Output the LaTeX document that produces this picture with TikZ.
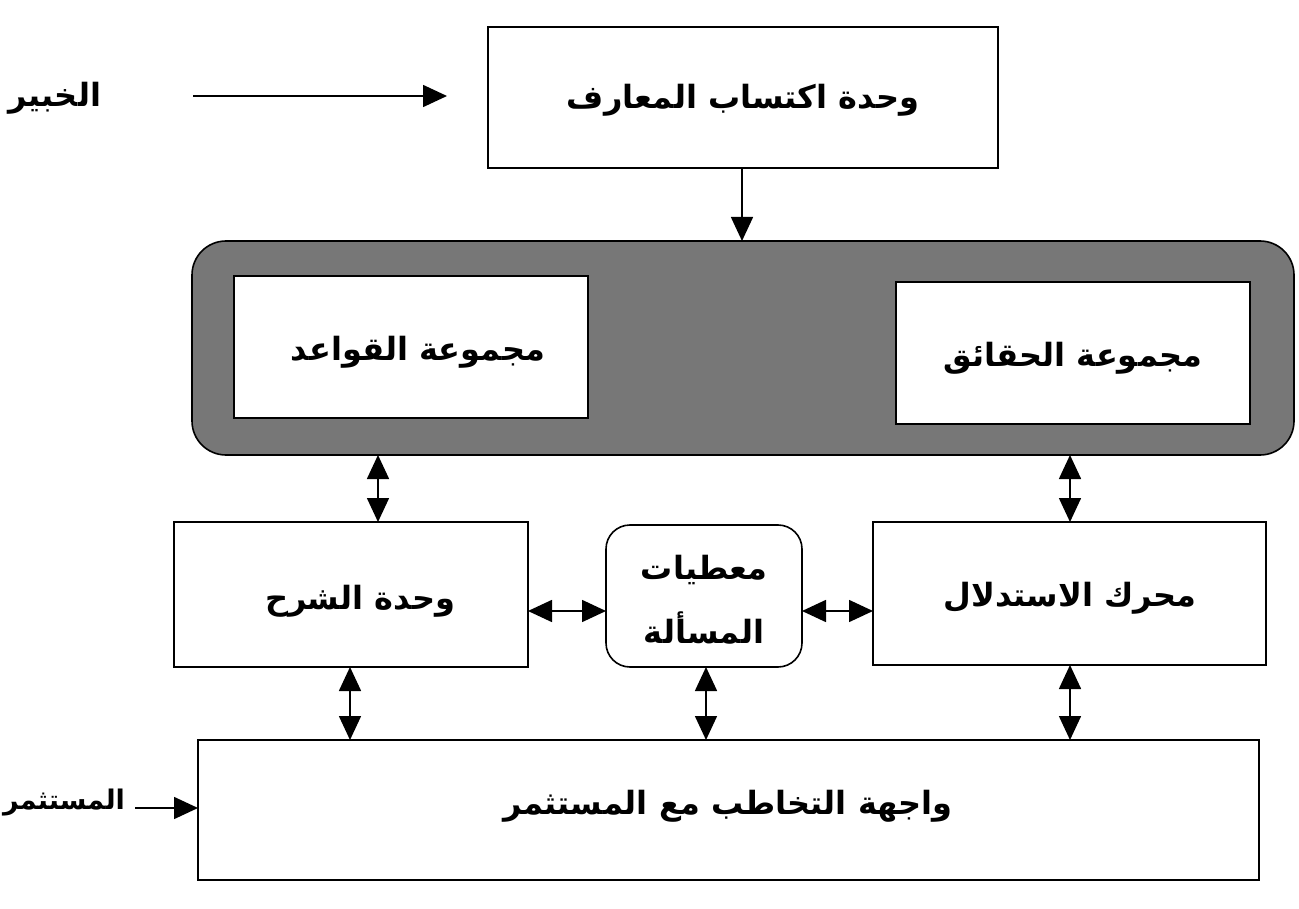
\documentclass[tikz,border=0pt]{standalone}
\usepackage{fontspec}
\newfontfamily\arabicfont[Script=Arabic]{DejaVu Sans}
\TeXXeTstate=1
\usetikzlibrary{arrows.meta}
\definecolor{panelgray}{HTML}{777777}
\tikzset{
  box/.style={draw=black, line width=1.6pt, fill=white, inner sep=0pt},
  lbl/.style={font=\arabicfont\bfseries\fontsize{32}{50}\selectfont, align=center},
  conn/.style={line width=1.6pt, -{Triangle[length=24pt,width=22pt]}},
  dconn/.style={line width=1.6pt, {Triangle[length=24pt,width=22pt]}-{Triangle[length=24pt,width=22pt]}},
}
\begin{document}
\begin{tikzpicture}[x=1pt,y=-1pt]
\useasboundingbox (0,0) rectangle (1299,909);
% acquisition unit
\draw[box] (488,27) rectangle (998,168);
\node[lbl] (acq) at (743,100) {\beginR وحدة اكتساب المعارف\endR};
\coordinate (acqS) at (742,168);
% knowledge base panel
\draw[line width=1.6pt, fill=panelgray, rounded corners=34pt] (192,241) rectangle (1294,455);
\coordinate (kbN) at (742,241);
\draw[box] (234,276) rectangle (588,418);
\node[lbl] (rules) at (418,352) {\beginR مجموعة القواعد\endR};
\draw[box] (896,282) rectangle (1250,424);
\node[lbl] (facts) at (1073,358) {\beginR مجموعة الحقائق\endR};
% middle row
\draw[box] (174,522) rectangle (528,667);
\node[lbl] (expl) at (360,601) {\beginR وحدة الشرح\endR};
\draw[box, rounded corners=24pt] (606,525) rectangle (802,667);
\node[lbl] (data) at (704,600) {\beginR معطيات\endR\\[14pt]\beginR المسألة\endR};
\draw[box] (873,522) rectangle (1266,665);
\node[lbl] (inf) at (1070,598) {\beginR محرك الاستدلال\endR};
% interface
\draw[box] (198,740) rectangle (1259,880);
\node[lbl] (ui) at (728,806) {\beginR واجهة التخاطب مع المستثمر\endR};
% side labels
\node[lbl] (expert) at (55,98) {\beginR الخبير\endR};
\node[lbl, font=\arabicfont\bfseries\fontsize{27}{40}\selectfont] (user) at (64,803) {\beginR المستثمر\endR};
% coordinates for connectors
\coordinate (eS) at (193,96);  \coordinate (eE) at (447,96);
\coordinate (uS) at (135,808); \coordinate (uE) at (198,808);
\draw[conn] (eS) -- (eE);
\draw[conn] (uS) -- (uE);
\draw[conn] (acqS) -- (kbN);
\coordinate (a1) at (378,455); \coordinate (a2) at (378,522);
\coordinate (b1) at (1070,455); \coordinate (b2) at (1070,522);
\draw[dconn] (a1) -- (a2);
\draw[dconn] (b1) -- (b2);
\coordinate (c1) at (528,611); \coordinate (c2) at (606,611);
\coordinate (d1) at (802,611); \coordinate (d2) at (873,611);
\draw[dconn] (c1) -- (c2);
\draw[dconn] (d1) -- (d2);
\coordinate (e1) at (350,667); \coordinate (e2) at (350,740);
\coordinate (f1) at (706,667); \coordinate (f2) at (706,740);
\coordinate (g1) at (1070,665); \coordinate (g2) at (1070,740);
\draw[dconn] (e1) -- (e2);
\draw[dconn] (f1) -- (f2);
\draw[dconn] (g1) -- (g2);
\end{tikzpicture}
\end{document}
